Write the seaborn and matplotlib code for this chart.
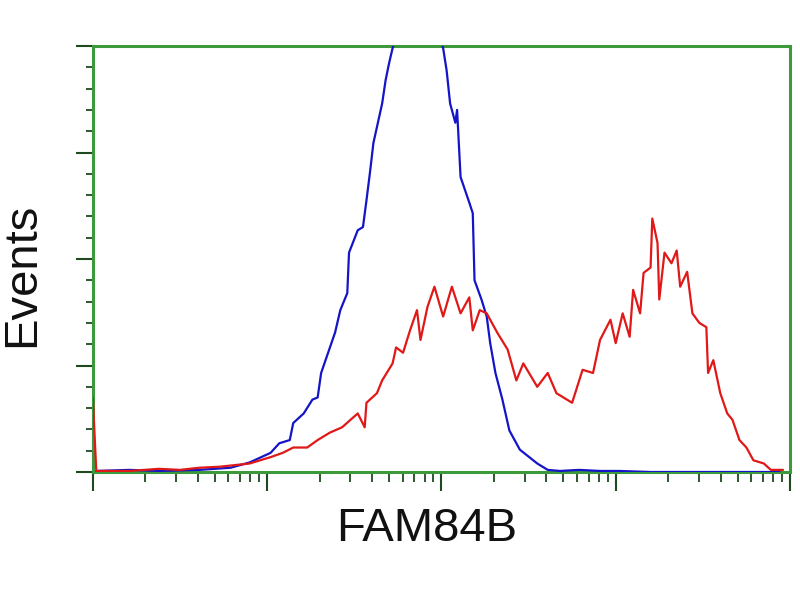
import numpy as np
import pandas as pd
import matplotlib
matplotlib.use("Agg")
import matplotlib.pyplot as plt
import matplotlib.ticker as mticker
import seaborn as sns

# fluorescence position in decades (log10) and event counts
blue_log = [0.02, 0.21, 0.38, 0.61, 0.79, 0.90, 1.02, 1.07, 1.13, 1.15, 1.21, 1.26, 1.29,
            1.31, 1.35, 1.39, 1.42, 1.46, 1.47, 1.52, 1.55, 1.57, 1.59, 1.61, 1.66, 1.68,
            1.70, 1.72, 1.76, 1.82, 1.88, 1.93, 1.99, 2.01, 2.03, 2.05, 2.08, 2.09, 2.11,
            2.16, 2.18, 2.19, 2.23, 2.26, 2.28, 2.31, 2.35, 2.39, 2.45, 2.55, 2.61, 2.68,
            2.79, 2.91, 3.02, 3.20, 3.48, 3.94]
blue_counts = [1, 2, 1, 2, 4, 9, 18, 27, 30, 46, 55, 68, 70,
               93, 112, 131, 152, 168, 206, 227, 230, 255, 281, 309, 346, 368,
               384, 398, 420, 440, 450, 435, 410, 398, 377, 346, 328, 340, 277,
               253, 243, 180, 162, 146, 121, 93, 68, 39, 21, 8, 2, 1,
               2, 1, 1, 0, 0, 0]

red_log = [0.00, 0.02, 0.21, 0.38, 0.50, 0.61, 0.73, 0.90, 1.02, 1.09, 1.15, 1.23, 1.29,
           1.36, 1.43, 1.52, 1.56, 1.57, 1.63, 1.66, 1.72, 1.74, 1.78, 1.82, 1.86, 1.88,
           1.92, 1.96, 2.01, 2.06, 2.11, 2.16, 2.18, 2.22, 2.26, 2.32, 2.38, 2.43, 2.47,
           2.55, 2.61, 2.66, 2.72, 2.75, 2.81, 2.87, 2.91, 2.97, 3.00, 3.04, 3.08, 3.10,
           3.14, 3.16, 3.20, 3.21, 3.24, 3.25, 3.28, 3.32, 3.35, 3.37, 3.41, 3.44, 3.48,
           3.52, 3.53, 3.56, 3.60, 3.64, 3.67, 3.71, 3.75, 3.79, 3.85, 3.89, 3.96]
red_counts = [70, 1, 1, 3, 2, 4, 5, 8, 14, 18, 23, 23, 30,
              37, 42, 55, 42, 65, 74, 86, 102, 117, 112, 133, 152, 124,
              155, 174, 146, 174, 149, 164, 133, 152, 149, 131, 115, 86, 102,
              80, 93, 74, 68, 65, 96, 93, 124, 143, 121, 149, 127, 171,
              149, 187, 192, 238, 215, 162, 206, 196, 208, 174, 188, 149, 140,
              136, 93, 105, 74, 55, 49, 30, 23, 11, 8, 2, 2]

green = "#3c9a3c"

def build_frame():
    blue = pd.DataFrame({"fl": np.power(10.0, blue_log), "events": blue_counts, "sample": "control"})
    red = pd.DataFrame({"fl": np.power(10.0, red_log), "events": red_counts, "sample": "FAM84B"})
    return pd.concat([blue, red], ignore_index=True)

def main():
    sns.set_style("white")
    plt.rcParams["font.family"] = ["Liberation Sans", "DejaVu Sans"]
    plt.rcParams["text.color"] = "black"
    plt.rcParams["axes.labelcolor"] = "black"
    df = build_frame()

    fig = plt.figure(figsize=(8, 6), dpi=100)
    ax = fig.add_axes([0.116, 0.2133, 0.8715, 0.71])
    sns.lineplot(data=df, x="fl", y="events", hue="sample", palette={"control": "#1414c8", "FAM84B": "#e01818"},
                 estimator=None, sort=False, linewidth=1.6, legend=False, ax=ax, zorder=3)

    ax.set_xscale("log")
    ax.set_xlim(1, 10000)
    ax.set_ylim(0, 400)
    ax.xaxis.set_major_locator(mticker.LogLocator(base=10))
    ax.xaxis.set_minor_locator(mticker.LogLocator(base=10, subs=np.arange(2, 10)))
    ax.xaxis.set_minor_formatter(mticker.NullFormatter())
    ax.xaxis.set_major_formatter(mticker.NullFormatter())
    ax.yaxis.set_major_locator(mticker.MultipleLocator(100))
    ax.yaxis.set_minor_locator(mticker.MultipleLocator(20))
    ax.yaxis.set_major_formatter(mticker.NullFormatter())

    for s in ax.spines.values():
        s.set_color(green)
        s.set_linewidth(2.2)
    ax.tick_params(axis="x", which="major", direction="out", length=14, width=1.5, color="#1f4a1f", bottom=True)
    ax.tick_params(axis="x", which="minor", direction="out", length=7, width=1.3, color="#1f4a1f", bottom=True)
    ax.tick_params(axis="y", which="major", direction="out", length=12, width=1.5, color="#1f4a1f", left=True)
    ax.tick_params(axis="y", which="minor", direction="out", length=5, width=1.3, color="#1f4a1f", left=True)

    ax.set_xlabel("FAM84B", fontsize=34, color="#111111")
    ax.set_ylabel("Events", fontsize=34, color="#111111")
    ax.xaxis.set_label_coords(0.479, -0.082)
    ax.yaxis.set_label_coords(-0.07, 0.462)
    fig.savefig("out.png", dpi=100)

if __name__ == "__main__":
    main()
